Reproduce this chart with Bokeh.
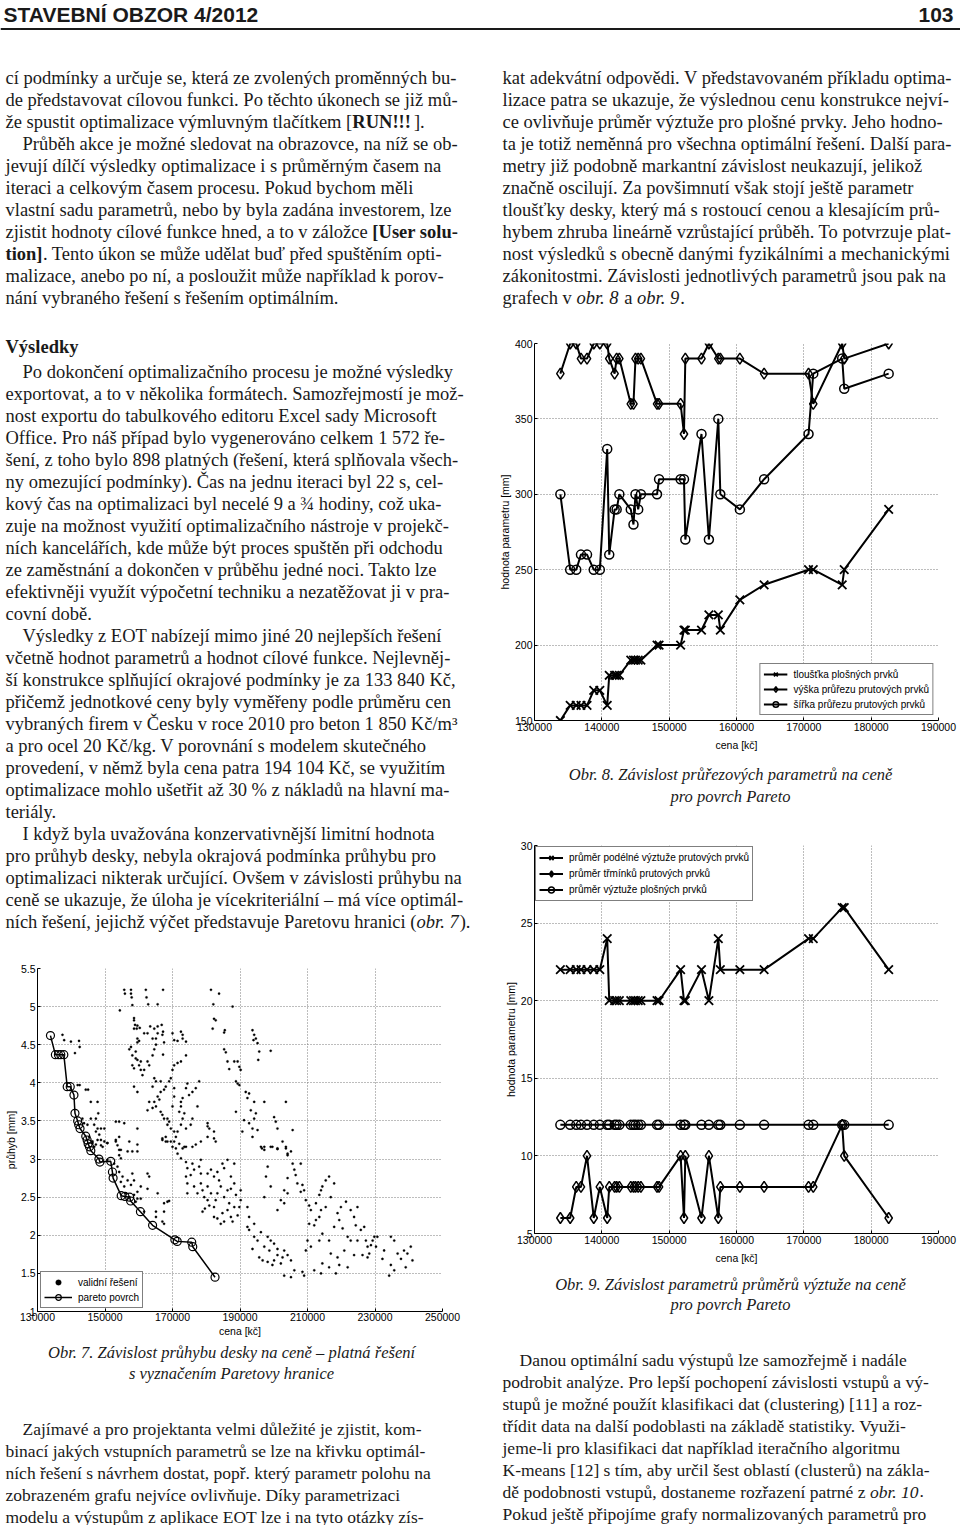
import unicodedata
from bokeh.plotting import figure
from bokeh.layouts import column, row
from bokeh.models import (Range1d, FixedTicker, NumeralTickFormatter, Legend,
                          LegendItem, Span)
from bokeh.core.properties import value
from bokeh.embed import file_html
from bokeh.resources import INLINE

SERIF = "Liberation Serif"
SANS = "Liberation Sans"
INK = "#1a1a1a"

# ------------------------------------------------------------------ data
# Pareto solutions (cena [Kc]) shared by obr. 7, 8, 9
PARETO_X = [133840, 135300, 136200, 136900, 137800, 138800, 139700, 140800,
            141100, 141900, 142200, 142600, 144300, 144700, 145000, 145400,
            145800, 148200, 148500, 151700, 152200, 152400, 154800, 155900,
            157300, 157600, 160500, 164100, 170700, 171400, 175700, 176000,
            182600]
# obr. 7 - pruhyb [mm] of pareto solutions
PARETO_DEFL = [4.62, 4.37, 4.37, 4.37, 4.37, 3.95, 3.95, 3.84, 3.60, 3.50,
               3.45, 3.40, 3.30, 3.25, 3.20, 3.16, 3.11, 3.00, 2.96, 2.97,
               2.83, 2.75, 2.52, 2.51, 2.50, 2.45, 2.31, 2.13, 1.94, 1.92,
               1.91, 1.85, 1.45]
# obr. 8 - section parameters [mm]
SLAB_T = [150, 160, 160, 160, 160, 170, 170, 160, 180, 180, 180, 180, 190,
          190, 190, 190, 190, 200, 200, 200, 210, 210, 210, 220, 220, 210,
          230, 240, 250, 250, 240, 250, 290]
BEAM_H = [380, 400, 400, 390, 390, 400, 400, 400, 390, 380, 390, 390, 360,
          360, 390, 390, 390, 360, 360, 360, 340, 390, 390, 400, 390, 390,
          390, 380, 380, 360, 400, 390, 400]
BEAM_B = [300, 250, 250, 260, 260, 250, 250, 330, 260, 290, 290, 300, 290,
          280, 300, 290, 300, 300, 310, 310, 310, 270, 340, 270, 350, 300,
          290, 310, 340, 380, 390, 370, 380]
# obr. 9 - reinforcement diameters [mm]
BAR_LONG = [22, 22, 22, 22, 22, 22, 22, 24, 20, 20, 20, 20, 20, 20, 20, 20,
            20, 20, 20, 22, 20, 20, 22, 20, 24, 22, 22, 22, 24, 24, 26, 26, 22]
BAR_STIR = [6, 6, 8, 8, 10, 6, 8, 6, 8, 8, 8, 8, 8, 8, 8, 8, 8, 8, 8, 10, 6,
            10, 6, 10, 6, 8, 8, 8, 8, 8, 12, 10, 6]
BAR_SLAB = [12, 12, 12, 12, 12, 12, 12, 12, 12, 12, 12, 12, 12, 12, 12, 12,
            12, 12, 12, 12, 12, 12, 12, 12, 12, 12, 12, 12, 12, 12, 12, 12, 12]

# obr. 7 - all valid solutions (cena [Kc], pruhyb [mm])
VALID_PTS = [
    (155700, 5.22), (157700, 5.22), (162100, 5.22), (167200, 5.22), (155900, 5.17),
    (157700, 5.17), (157900, 5.12), (162300, 5.12), (158100, 5.02), (162800, 5.03),
    (165600, 5.03), (154400, 4.95), (158600, 4.85), (158600, 4.82), (158900, 4.76),
    (159400, 4.71), (159600, 4.75), (158600, 4.71), (160300, 4.72), (163400, 4.74),
    (165600, 4.74), (166800, 4.76), (167200, 4.67), (164600, 4.71), (161600, 4.65),
    (159600, 4.58), (159600, 4.53), (160100, 4.55), (157700, 4.47), (157200, 4.44),
    (158100, 4.36), (159100, 4.32), (159600, 4.30), (160600, 4.28), (160100, 4.23),
    (158600, 4.19), (160600, 4.17), (161600, 4.17), (161100, 4.10), (162600, 4.28),
    (163100, 4.23), (164100, 4.36), (164600, 4.44), (165100, 4.50), (167500, 4.53),
    (167000, 4.63), (167200, 4.37), (165100, 4.58), (164100, 4.58), (162600, 4.65),
    (165600, 4.65), (164600, 4.06), (165100, 4.02), (164100, 3.95), (166500, 4.02),
    (166500, 3.88), (167500, 3.91), (168000, 3.95), (169000, 4.02), (169500, 4.06),
    (170000, 4.17), (170500, 4.23), (171500, 4.26), (172500, 4.28), (174000, 4.36),
    (165600, 3.82), (166100, 3.78), (164600, 3.75), (164100, 3.67), (162600, 3.64),
    (163100, 3.75), (165100, 3.69), (166500, 3.62), (167000, 3.58), (167500, 3.53),
    (168500, 3.53), (169000, 3.49), (168500, 3.45), (169500, 3.40), (170500, 3.36),
    (168000, 3.29), (167000, 3.27), (168000, 3.23), (169500, 3.23), (171000, 3.29),
    (171500, 3.36), (172500, 3.45), (173000, 3.53), (172000, 3.62), (172500, 3.75),
    (173000, 3.80), (174000, 3.93), (174400, 3.99), (174900, 3.84), (175900, 3.88),
    (172500, 3.69), (173500, 3.60), (170000, 3.69), (170500, 3.82), (170500, 3.93),
    (158600, 3.95), (159600, 3.88), (158100, 4.23), (159100, 4.41), (170000, 4.65),
    (170500, 4.56), (171500, 4.55), (172500, 4.67), (173000, 4.63), (173000, 4.58),
    (174000, 4.54), (176900, 3.93), (177900, 4.02), (180400, 3.47), (180400, 3.43),
    (180900, 3.40), (182300, 3.36), (182300, 3.27), (178400, 3.23), (176900, 3.19),
    (175900, 3.16), (174000, 3.16), (173000, 3.14), (177400, 3.69), (175900, 3.53),
    (175400, 3.45), (174000, 3.40),
    (181400, 5.22), (183800, 5.17), (182100, 5.03), (182300, 4.84), (182800, 4.82),
    (181900, 4.71), (185500, 4.69), (185300, 4.66), (187800, 5.00), (185300, 4.44),
    (185800, 4.40), (186300, 4.28), (186800, 4.18), (188300, 4.28), (189300, 4.28),
    (189800, 4.21), (190200, 4.17), (188800, 4.02), (189300, 3.99), (189800, 3.97),
    (191700, 3.88), (192200, 3.80), (192700, 3.86), (193200, 3.64), (194200, 3.75),
    (191200, 3.51), (192700, 3.47), (194200, 3.53), (194700, 3.60), (193700, 3.40),
    (193700, 3.29), (195200, 3.38), (193700, 4.69), (194200, 4.63), (194700, 4.58),
    (195200, 4.52), (195700, 4.41), (195400, 4.30), (194000, 4.56), (199100, 4.42),
    (190700, 3.36), (188800, 3.62), (197200, 3.75), (200100, 3.55), (200600, 3.49),
    (201100, 3.40), (203600, 3.75), (205600, 3.38), (182800, 3.23), (180400, 3.29),
    (196500, 3.14), (197200, 3.16), (199100, 3.16), (201100, 3.13), (203600, 3.14),
    (204100, 3.07), (202600, 3.23),
    (137400, 4.63), (137900, 4.56), (139900, 4.54), (142300, 4.55), (142500, 4.47),
    (141100, 4.39), (141900, 3.97), (142500, 3.97), (144300, 3.91), (145000, 3.91),
    (145800, 3.75), (147800, 3.75), (148000, 3.60), (147300, 3.53), (145800, 3.53),
    (143300, 3.53), (143800, 3.47), (144800, 3.45), (146800, 3.45), (147800, 3.40),
    (148800, 3.40), (149800, 3.40), (147300, 3.36), (148300, 3.32), (145300, 3.29),
    (147800, 3.25), (148800, 3.25), (149800, 3.23), (146300, 3.21), (147300, 3.19),
    (149300, 3.16), (150700, 3.21), (153200, 3.25), (154200, 3.29), (154200, 3.12),
    (156700, 3.10), (158100, 3.10), (159600, 3.19), (159600, 3.40), (153200, 3.49),
    (154200, 3.49), (155700, 3.47), (157200, 3.23), (159600, 3.10),
    (146300, 3.23), (146800, 3.16), (148800, 3.18), (150700, 3.21), (153200, 3.23),
    (153700, 3.18), (154700, 3.12), (154200, 3.05), (154700, 3.01), (150700, 2.99),
    (152700, 2.94), (153700, 2.90), (154200, 2.83), (155200, 2.77), (154700, 2.70),
    (155700, 2.64), (156700, 2.72), (158100, 2.81), (158600, 2.72), (157700, 2.66),
    (156200, 2.55), (157200, 2.50), (158600, 2.53), (159600, 2.48), (159100, 2.44),
    (162600, 2.81), (163100, 2.77), (160600, 2.64), (162600, 2.61), (160600, 2.48),
    (159600, 2.57), (165600, 2.55), (161600, 2.31), (165100, 2.31), (167000, 2.18),
    (165100, 2.24), (167500, 2.31), (168500, 2.44), (167500, 2.15),
    (167000, 3.25), (168500, 3.23), (170000, 3.16), (171000, 3.14), (171500, 3.07),
    (172500, 3.01), (174000, 2.96), (174400, 2.88), (175900, 2.94), (176400, 2.86),
    (177900, 2.90), (178400, 2.81), (175400, 2.79), (174000, 2.77), (174400, 2.68),
    (176400, 2.64), (178400, 2.68), (178900, 2.59), (177400, 2.55), (179400, 2.50),
    (180400, 2.46), (180900, 2.39), (182300, 2.37), (181400, 2.86), (182300, 2.77),
    (183300, 2.83), (183800, 2.72), (184300, 2.64), (183300, 2.55), (185300, 2.50),
    (186300, 2.59), (187300, 2.61), (186800, 2.42), (186300, 2.33), (184800, 2.29),
    (183300, 2.22), (182300, 2.24), (184300, 2.15), (185300, 2.18), (188300, 2.37),
    (187300, 2.24), (187800, 2.18), (189300, 2.26), (189800, 2.37), (190200, 2.46),
    (188800, 2.53), (188300, 2.68), (187300, 2.77), (185300, 2.88), (184800, 2.94),
    (186300, 2.99), (188300, 2.94), (180400, 2.64), (181400, 2.55), (182800, 2.46),
    (179600, 2.35), (178900, 2.31), (180400, 2.81), (178400, 2.99), (174400, 2.55),
    (173500, 3.16), (172000, 3.20), (170500, 3.23), (169000, 2.45), (167500, 2.42),
    (196200, 3.16), (197200, 3.12), (199600, 3.16), (201100, 3.14), (203600, 3.16),
    (204100, 3.05), (205100, 3.10), (205600, 2.94), (206100, 2.86), (206500, 2.79),
    (207000, 2.68), (208000, 2.57), (204100, 2.75), (203100, 2.59), (204100, 2.55),
    (202100, 2.46), (198200, 2.90), (197700, 2.77), (199100, 2.64), (197200, 2.50),
    (201100, 2.33), (203100, 2.42), (190200, 2.59), (192200, 2.37), (192700, 2.24),
    (194200, 2.15), (192200, 2.11), (192700, 2.07), (194200, 1.98), (193700, 1.82),
    (195200, 1.93), (196200, 2.04), (198200, 1.98), (199100, 1.93), (197200, 1.85),
    (198700, 1.80), (200100, 1.89), (201100, 1.82), (201100, 1.74), (202600, 1.71),
    (203100, 1.80), (204100, 1.74), (195700, 1.71), (196700, 1.67), (198200, 1.65),
    (199600, 1.61), (200100, 1.67), (202100, 1.63), (203100, 1.47), (205100, 1.67),
    (206100, 1.54), (205100, 1.45), (208000, 2.94), (208500, 2.66), (209000, 2.59),
    (209500, 2.46), (210500, 2.39), (211000, 2.33), (212500, 2.42), (213500, 2.53),
    (214000, 2.59), (214400, 2.64), (215400, 2.72), (216400, 2.77), (217900, 2.68),
    (216900, 2.50), (215400, 2.37), (214000, 2.33), (213500, 2.24), (212500, 2.20),
    (212000, 2.13), (210500, 2.15), (210000, 1.93), (209500, 1.80), (211000, 1.85),
    (213500, 1.93), (214400, 2.02), (216400, 1.93), (217900, 2.11), (218900, 2.29),
    (219900, 2.37), (221400, 2.44), (222800, 2.33), (224800, 2.37), (219400, 2.20),
    (220400, 2.09), (221900, 1.98), (224300, 2.13), (223800, 2.24), (225800, 2.07),
    (226800, 2.11), (227300, 1.93), (227800, 1.85), (228800, 1.87), (229300, 1.93),
    (229800, 1.98), (230300, 1.85), (230700, 1.98), (228300, 1.76), (232700, 1.80),
    (234700, 1.98), (235700, 1.93), (236700, 1.76), (237700, 1.69), (238600, 1.80),
    (239100, 1.58), (239600, 1.76), (240600, 1.85), (241100, 1.67), (234700, 1.61),
    (232200, 1.69), (221900, 1.58), (223800, 1.74), (216900, 1.76), (218900, 1.71),
    (219400, 1.61), (214400, 1.63), (212000, 1.54), (209000, 1.47), (208500, 1.52),
    (214000, 1.50), (218400, 1.50), (234200, 1.47), (235700, 1.54), (227800, 1.71),
    (226300, 1.74), (224800, 1.93), (222800, 1.93), (220900, 1.80), (216400, 1.58),
]
VALID_X = [p[0] for p in VALID_PTS]
VALID_Y = [p[1] for p in VALID_PTS]

X_TICKS_89 = [130000, 140000, 150000, 160000, 170000, 180000, 190000]
Y_TICKS_8 = [150, 200, 250, 300, 350, 400]
Y_TICKS_9 = [5, 10, 15, 20, 25, 30]
X_TICKS_7 = [130000, 150000, 170000, 190000, 210000, 230000, 250000]
Y_TICKS_7 = [1, 1.5, 2, 2.5, 3, 3.5, 4, 4.5, 5, 5.5]

LEG_8 = ["tloušťka plošných prvků", "výška průřezu prutových prvků",
         "šířka průřezu prutových prvků"]
LEG_9 = ["průměr podélné výztuže prutových prvků", "průměr třmínků prutových prvků",
         "průměr výztuže plošných prvků"]
LEG_7 = ["validní řešení", "pareto povrch"]

# ------------------------------------------------------------------ text
TOP_LEFT = [
    "cí podmínky a určuje se, která ze zvolených proměnných bu-",
    "de představovat cílovou funkci. Po těchto úkonech se již mů-",
    [("že spustit optimalizace výmluvným tlačítkem [", "normal"), ("RUN!!!", "bold"), ("].", "normal")],
    "\tPrůběh akce je možné sledovat na obrazovce, na níž se ob-",
    "jevují dílčí výsledky optimalizace i s průměrným časem na",
    "iteraci a celkovým časem procesu. Pokud bychom měli",
    "vlastní sadu parametrů, nebo by byla zadána investorem, lze",
    [("zjistit hodnoty cílové funkce hned, a to v záložce ", "normal"), ("[User solu-", "bold")],
    [("tion]", "bold"), (". Tento úkon se může udělat buď před spuštěním opti-", "normal")],
    "malizace, anebo po ní, a posloužit může například k porov-",
    "nání vybraného řešení s řešením optimálním.",
]
TOP_RIGHT = [
    "kat adekvátní odpovědi. V představovaném příkladu optima-",
    "lizace patra se ukazuje, že výslednou cenu konstrukce nejví-",
    "ce ovlivňuje průměr výztuže pro plošné prvky. Jeho hodno-",
    "ta je totiž neměnná pro všechna optimální řešení. Další para-",
    "metry již podobně markantní závislost neukazují, jelikož",
    "značně oscilují. Za povšimnutí však stojí ještě parametr",
    "tloušťky desky, který má s rostoucí cenou a klesajícím prů-",
    "hybem zhruba lineárně vzrůstající průběh. To potvrzuje plat-",
    "nost výsledků s obecně danými fyzikálními a mechanickými",
    "zákonitostmi. Závislosti jednotlivých parametrů jsou pak na",
    [("grafech v ", "normal"), ("obr. 8", "italic"), (" a ", "normal"), ("obr. 9", "italic"), (".", "normal")],
]
LEFT_MID = [
    "\tPo dokončení optimalizačního procesu je možné výsledky",
    "exportovat, a to v několika formátech. Samozřejmostí je mož-",
    "nost exportu do tabulkového editoru Excel sady Microsoft",
    "Office. Pro náš případ bylo vygenerováno celkem 1 572 ře-",
    "šení, z toho bylo 898 platných (řešení, která splňovala všech-",
    "ny omezující podmínky). Čas na jednu iteraci byl 22 s, cel-",
    "kový čas na optimalizaci byl necelé 9 a ¾ hodiny, což uka-",
    "zuje na možnost využití optimalizačního nástroje v projekč-",
    "ních kancelářích, kde může být proces spuštěn při odchodu",
    "ze zaměstnání a dokončen v průběhu jedné noci. Takto lze",
    "efektivněji využít výpočetní techniku a nezatěžovat ji v pra-",
    "covní době.",
    "\tVýsledky z EOT nabízejí mimo jiné 20 nejlepších řešení",
    "včetně hodnot parametrů a hodnot cílové funkce. Nejlevněj-",
    "ší konstrukce splňující okrajové podmínky je za 133 840 Kč,",
    "přičemž jednotkové ceny byly vyměřeny podle průměru cen",
    "vybraných firem v Česku v roce 2010 pro beton 1 850 Kč/m³",
    "a pro ocel 20 Kč/kg. V porovnání s modelem skutečného",
    "provedení, v němž byla cena patra 194 104 Kč, se využitím",
    "optimalizace mohlo ušetřit až 30 % z nákladů na hlavní ma-",
    "teriály.",
    "\tI když byla uvažována konzervativnější limitní hodnota",
    "pro průhyb desky, nebyla okrajová podmínka průhybu pro",
    "optimalizaci nikterak určující. Ovšem v závislosti průhybu na",
    "ceně se ukazuje, že úloha je vícekriteriální – má více optimál-",
    [("ních řešení, jejichž výčet představuje Paretovu hranici (", "normal"), ("obr. 7", "italic"), (").", "normal")],
]
LEFT_BOTTOM = [
    "\tZajímavé a pro projektanta velmi důležité je zjistit, kom-",
    "binací jakých vstupních parametrů se lze na křivku optimál-",
    "ních řešení s návrhem dostat, popř. který parametr polohu na",
    "zobrazeném grafu nejvíce ovlivňuje. Díky parametrizaci",
    "modelu a výstupům z aplikace EOT lze i na tyto otázky zís-",
]
RIGHT_BOTTOM = [
    "\tDanou optimální sadu výstupů lze samozřejmě i nadále",
    "podrobit analýze. Pro lepší pochopení závislosti vstupů a vý-",
    "stupů je možné použít klasifikaci dat (clustering) [11] a roz-",
    "třídit data na další podoblasti na základě statistiky. Využi-",
    "jeme-li pro klasifikaci dat například iteračního algoritmu",
    "K-means [12] s tím, aby určil šest oblastí (clusterů) na zákla-",
    [("dě podobnosti vstupů, dostaneme rozřazení patrné z ", "normal"), ("obr. 10", "italic"), (".", "normal")],
    "Pokud ještě připojíme grafy normalizovaných parametrů pro",
]
CAP_7 = ["Obr. 7. Závislost průhybu desky na ceně – platná řešení",
         "s vyznačením Paretovy hranice"]
CAP_8 = ["Obr. 8. Závislost průřezových parametrů na ceně", "pro povrch Pareto"]
CAP_9 = ["Obr. 9. Závislost parametrů průměrů výztuže na ceně", "pro povrch Pareto"]

# approximate Times advance widths (1/1000 em) for inline style runs
_W = dict(zip("abcdefghijklmnopqrstuvwxyz",
              [444, 500, 444, 500, 444, 333, 500, 500, 278, 278, 500, 278, 778,
               500, 500, 500, 500, 333, 389, 278, 500, 500, 722, 500, 500, 444]))
_W.update(zip("ABCDEFGHIJKLMNOPQRSTUVWXYZ",
              [722, 667, 667, 722, 611, 556, 722, 722, 333, 389, 722, 611, 889,
               722, 722, 556, 722, 667, 556, 611, 722, 722, 944, 722, 722, 611]))
for _c in "0123456789":
    _W[_c] = 500
_W.update({" ": 250, "!": 333, "%": 833, "(": 333, ")": 333, ",": 250, "-": 333,
           ".": 250, "/": 278, ":": 278, ";": 278, "[": 333, "]": 333, "–": 500,
           "¾": 750, "³": 300})


def tw(s, px, style="normal"):
    tot = 0
    for ch in s:
        tot += _W.get(unicodedata.normalize("NFD", ch)[0], 500)
    return tot * px / 1000.0 * (1.07 if style == "bold" else 1.0)


class Writer:
    def __init__(self, p):
        self.p = p
        self.g = {}

    def put(self, x, y, s, style="normal", font=SERIF, size=18.5, align="left"):
        d = self.g.setdefault((style, font, size, align), ([], [], []))
        d[0].append(x)
        d[1].append(y)
        d[2].append(s)

    def lines(self, x, y0, dy, lines, size=18.5, indent=17):
        for i, ln in enumerate(lines):
            segs = [(ln, "normal")] if isinstance(ln, str) else list(ln)
            cx = x
            if segs[0][0].startswith("\t"):
                cx += indent
                segs[0] = (segs[0][0][1:], segs[0][1])
            for s, st in segs:
                lead = len(s) - len(s.lstrip(" "))
                cx += lead * 250 * size / 1000.0
                s2 = s.lstrip(" ")
                self.put(cx, y0 + dy * i, s2.rstrip(" "), st, SERIF, size)
                cx += tw(s2, size, st)

    def flush(self):
        for (st, font, size, align), (xs, ys, ts) in self.g.items():
            self.p.text(x=xs, y=ys, text=ts, text_font=value(font),
                        text_font_size=value(f"{size}px"), text_font_style=st,
                        text_align=align, text_baseline="alphabetic", text_color=INK)


def text_fig(x0, x1, y0, y1):
    p = figure(width=x1 - x0, height=y1 - y0, x_range=Range1d(x0, x1),
               y_range=Range1d(y1, y0), x_axis_type=None, y_axis_type=None,
               toolbar_location=None, output_backend="svg", min_border=0,
               title=None, frame_align=False)
    p.outline_line_color = None
    p.grid.visible = False
    return p


def chart(width, height, xr, yr, borders, xticks, yticks, yfmt, xlabel, ylabel):
    l, r, t, b = borders
    p = figure(width=width, height=height, x_range=Range1d(*xr), y_range=Range1d(*yr),
               toolbar_location=None, output_backend="svg", title=None,
               min_border_left=l, min_border_right=r, min_border_top=t,
               min_border_bottom=b, frame_align=False)
    p.outline_line_color = None
    p.xaxis.ticker = FixedTicker(ticks=xticks)
    p.yaxis.ticker = FixedTicker(ticks=yticks)
    p.xaxis.formatter = NumeralTickFormatter(format="0")
    p.yaxis.formatter = NumeralTickFormatter(format=yfmt)
    p.xaxis.axis_label = xlabel
    p.yaxis.axis_label = ylabel
    for ax in p.axis:
        ax.axis_line_color = "black"
        ax.axis_line_width = 1
        ax.major_tick_in = 3
        ax.major_tick_out = 0
        ax.major_tick_line_color = "black"
        ax.minor_tick_line_color = None
        ax.major_label_text_font = SANS
        ax.major_label_text_font_size = "10.5px"
        ax.major_label_text_color = "black"
        ax.axis_label_text_font = SANS
        ax.axis_label_text_font_size = "10.5px"
        ax.axis_label_text_font_style = "normal"
        ax.axis_label_text_color = "black"
        ax.major_label_standoff = 2
    p.xaxis.axis_label_standoff = 5
    p.yaxis.axis_label_standoff = 1
    p.grid.grid_line_color = "#7a7a7a"
    p.grid.grid_line_dash = "1 2"
    p.grid.grid_line_width = 1
    return p


def legend(p, items, loc, margin, gw, h, fs="10px"):
    leg = Legend(items=items, location=loc, margin=margin, padding=3, spacing=1,
                 glyph_width=gw, glyph_height=h, label_height=h, label_standoff=6,
                 label_text_font=SANS, label_text_font_size=fs, label_text_color="black",
                 border_line_color="black", border_line_width=1,
                 background_fill_color="white", background_fill_alpha=1)
    p.add_layout(leg)


def series(p, xs, ys, marker, size, lw=2.0, mlw=1.6):
    ln = p.line(xs, ys, line_color="black", line_width=lw)
    mk = p.scatter(xs, ys, marker=marker, size=size, line_color="black",
                   line_width=mlw, fill_color=None)
    return [ln, mk]

# ------------------------------------------------------------------ top block
top = text_fig(0, 960, 0, 322)
top.add_layout(Span(location=28.5, dimension="width", line_color=INK, line_width=2))
wt = Writer(top)
wt.put(3, 14, "STAVEBNÍ OBZOR 4/2012", "bold", SANS, 21)
wt.put(953, 14, "103", "bold", SANS, 21, "right")
wt.lines(5, 77, 22, TOP_LEFT)
wt.lines(502, 77, 22, TOP_RIGHT)
wt.flush()

# ------------------------------------------------------------------ left column
text1 = text_fig(0, 485, 322, 945)
w1 = Writer(text1)
w1.put(5, 346, "Výsledky", "bold")
w1.lines(5, 371, 22, LEFT_MID)
w1.flush()

p7 = chart(485, 395, (130000, 250000), (1, 5.5), (37, 43, 23, 29), X_TICKS_7,
           Y_TICKS_7, "0.[0]", "cena [kč]", "průhyb [mm]")
p7.xaxis.axis_label_standoff = 1
p7.xaxis.major_label_standoff = 1
r_valid = p7.scatter(VALID_X, VALID_Y, marker="circle", size=2.3,
                     fill_color="black", line_color="black", line_width=0.3)
r_par = series(p7, PARETO_X, PARETO_DEFL, "circle", 8, lw=1.5, mlw=1.2)
legend(p7, [LegendItem(label=LEG_7[0], renderers=[r_valid]),
            LegendItem(label=LEG_7[1], renderers=r_par)],
       "bottom_left", 3, 28, 14)

text2 = text_fig(0, 485, 1340, 1525)
w2 = Writer(text2)
w2.put(231, 1352, CAP_7[0], "italic", SERIF, 16.5, "center")
w2.put(231, 1373, CAP_7[1], "italic", SERIF, 16.5, "center")
w2.lines(5, 1428, 22, LEFT_BOTTOM, size=17.5)
w2.flush()

# ------------------------------------------------------------------ right column
p8 = chart(475, 438, (130000, 190000), (150, 400), (49, 22, 21, 40), X_TICKS_89,
           Y_TICKS_8, "0", "cena [kč]", "hodnota parametru [mm]")
s8a = series(p8, PARETO_X, SLAB_T, "x", 12, mlw=1.8)
s8b = series(p8, PARETO_X, BEAM_H, "diamond", 11, mlw=1.5)
s8c = series(p8, PARETO_X, BEAM_B, "circle", 9, mlw=1.5)
legend(p8, [LegendItem(label=LEG_8[0], renderers=s8a),
            LegendItem(label=LEG_8[1], renderers=s8b),
            LegendItem(label=LEG_8[2], renderers=s8c)],
       "bottom_right", 5, 24, 14)

cap8 = text_fig(485, 960, 760, 822)
wc = Writer(cap8)
wc.put(730, 774, CAP_8[0], "italic", SERIF, 16.5, "center")
wc.put(730, 796, CAP_8[1], "italic", SERIF, 16.5, "center")
wc.flush()

p9 = chart(475, 448, (130000, 190000), (5, 30), (49, 22, 23, 37), X_TICKS_89,
           Y_TICKS_9, "0", "cena [kč]", "hodnota parametru [mm]")
s9a = series(p9, PARETO_X, BAR_LONG, "x", 12, mlw=1.8)
s9b = series(p9, PARETO_X, BAR_STIR, "diamond", 11, mlw=1.5)
s9c = series(p9, PARETO_X, BAR_SLAB, "circle", 9, mlw=1.5)
legend(p9, [LegendItem(label=LEG_9[0], renderers=s9a),
            LegendItem(label=LEG_9[1], renderers=s9b),
            LegendItem(label=LEG_9[2], renderers=s9c)],
       "top_left", 1, 24, 15)

text3 = text_fig(485, 960, 1270, 1525)
w3 = Writer(text3)
w3.put(730, 1284, CAP_9[0], "italic", SERIF, 16.5, "center")
w3.put(730, 1304, CAP_9[1], "italic", SERIF, 16.5, "center")
w3.lines(502, 1359, 22, RIGHT_BOTTOM, size=17.5)
w3.flush()

page = column(top, row(column(text1, p7, text2), column(p8, cap8, p9, text3)))

open("out.html", "w").write(file_html(page, INLINE, title="Stavební obzor 4/2012"))
